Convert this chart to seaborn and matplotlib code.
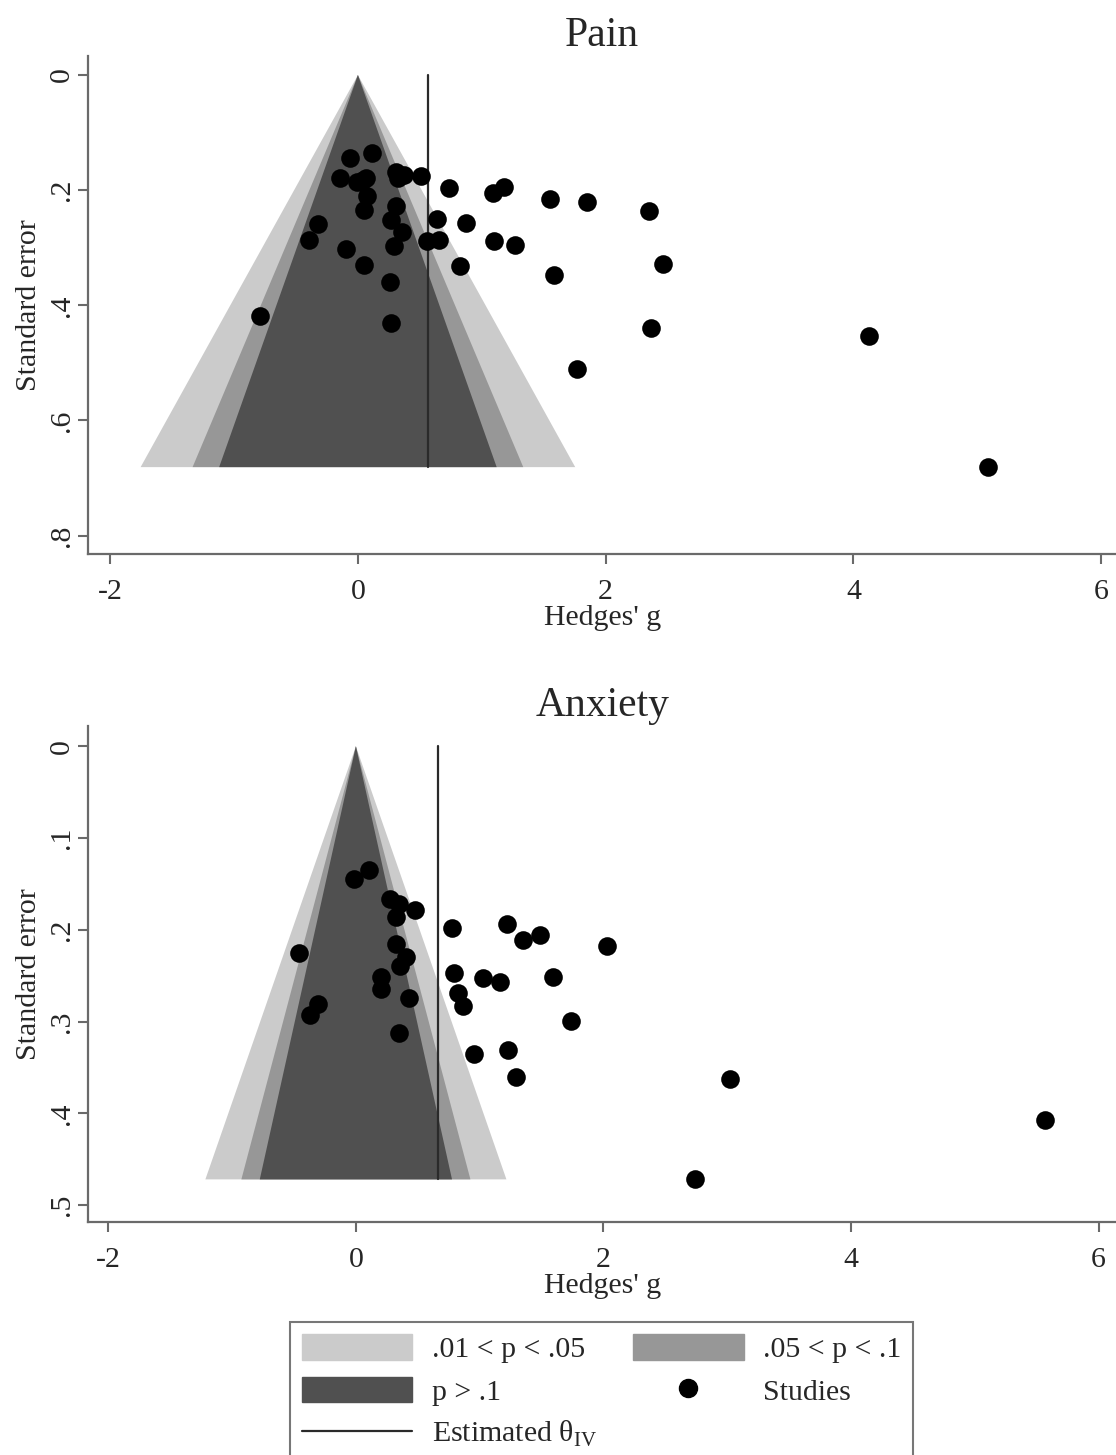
import numpy as np
import pandas as pd
import seaborn as sns
import matplotlib.pyplot as plt
from matplotlib.patches import Patch
from matplotlib.lines import Line2D

# values
pain_g = [-0.065, 0.114, -0.146, 0.045, -0.007, 0.065, 0.074, 0.051, 0.31, 0.37,
          0.326, 0.513, 0.739, 1.092, 1.179, 1.549, 1.85, 2.35, 0.305, 0.267,
          0.355, 0.635, 0.874, -0.319, -0.392, -0.10, 0.288, 0.557, 0.658, 1.10,
          1.265, 0.051, 0.826, 0.259, 1.584, 2.461, -0.788, 0.267, 2.364, 1.77,
          4.125, 5.09]
pain_se = [0.144, 0.135, 0.179, 0.182, 0.185, 0.179, 0.210, 0.235, 0.168, 0.173,
           0.179, 0.176, 0.196, 0.205, 0.194, 0.215, 0.220, 0.237, 0.228, 0.251,
           0.273, 0.250, 0.257, 0.258, 0.286, 0.303, 0.297, 0.289, 0.286, 0.288,
           0.295, 0.330, 0.331, 0.360, 0.348, 0.329, 0.419, 0.430, 0.439, 0.511,
           0.4535, 0.681]
pain_theta = 0.567

anx_g = [0.104, -0.017, 0.272, 0.35, 0.474, 0.321, 0.775, 1.218, 1.348, 1.487,
         2.027, -0.46, 0.321, 0.408, 0.359, 0.793, 1.03, 1.168, 1.593, 0.205,
         0.205, 0.428, 0.827, 0.862, -0.307, -0.373, 1.737, 0.35, 0.951, 1.232,
         1.296, 3.021, 5.57, 2.743]
anx_se = [0.135, 0.145, 0.167, 0.172, 0.178, 0.186, 0.198, 0.194, 0.211, 0.206,
          0.218, 0.225, 0.216, 0.230, 0.239, 0.247, 0.253, 0.257, 0.251, 0.251,
          0.264, 0.274, 0.269, 0.283, 0.281, 0.293, 0.299, 0.312, 0.335, 0.331,
          0.360, 0.363, 0.407, 0.472]
anx_theta = 0.66

x_ticks = [-2, 0, 2, 4, 6]
pain_yticks = [0, 0.2, 0.4, 0.6, 0.8]
anx_yticks = [0, 0.1, 0.2, 0.3, 0.4, 0.5]

z_levels = [2.576, 1.96, 1.645]
band_colors = ['#cbcbcb', '#979797', '#505050']
band_labels = ['.01 < p < .05', '.05 < p < .1', 'p > .1']

sns.set_theme(style="white")
plt.rcParams['font.family'] = ['Liberation Serif', 'DejaVu Serif']
plt.rcParams['mathtext.fontset'] = 'custom'
plt.rcParams['mathtext.rm'] = 'Liberation Serif'
plt.rcParams['axes.unicode_minus'] = False

axis_col = '#6a6a6a'
fs = 21.5


def fmt(v):
    return '0' if v == 0 else f'{v:.1f}'.lstrip('0')


def funnel(ax, g, se, theta, title, yticks, ylim, xlim):
    se_max = max(se)
    # contour bands, centred on zero
    for z, c in zip(z_levels, band_colors):
        ax.fill([0, -z * se_max, z * se_max], [0, se_max, se_max], color=c, lw=0, zorder=1)
    ax.plot([theta, theta], [0, se_max], color='#2a2a2a', lw=1.6, zorder=2)
    df = pd.DataFrame({'g': g, 'se': se})
    sns.scatterplot(data=df, x='g', y='se', ax=ax, color='black', s=180,
                    linewidth=0, legend=False, zorder=3)

    ax.set_xlim(*xlim)
    ax.set_ylim(ylim[1], ylim[0])
    ax.set_xticks(x_ticks)
    ax.set_xticklabels([str(t) for t in x_ticks])
    ax.set_yticks(yticks)
    ax.set_yticklabels([fmt(t) for t in yticks], rotation=90, va='center')
    ax.tick_params(direction='out', length=7, width=1.5, color=axis_col,
                   labelsize=fs, left=True, bottom=True)
    ax.tick_params(axis='y', pad=3)
    ax.tick_params(axis='x', pad=11)
    for s in ['top', 'right']:
        ax.spines[s].set_visible(False)
    for s in ['left', 'bottom']:
        ax.spines[s].set_color(axis_col)
        ax.spines[s].set_linewidth(1.6)
    ax.set_xlabel("Hedges' g", fontsize=fs, labelpad=0)
    ax.set_ylabel('Standard error', fontsize=fs, labelpad=5)
    ax.set_title(title, fontsize=30, pad=7)


fig = plt.figure(figsize=(11.16, 14.55), dpi=100)
ax1 = fig.add_axes([0.0793, 0.6192, 0.9207, 0.3423])
ax2 = fig.add_axes([0.0793, 0.1601, 0.9207, 0.3409])

funnel(ax1, pain_g, pain_se, pain_theta, 'Pain', pain_yticks, (-0.033, 0.832), (-2.175, 6.12))
funnel(ax2, anx_g, anx_se, anx_theta, 'Anxiety', anx_yticks, (-0.022, 0.5185), (-2.16, 6.14))

handles = [Patch(color=band_colors[0]), Patch(color=band_colors[2]),
           Line2D([], [], color='#2a2a2a', lw=1.6),
           Patch(color=band_colors[1]),
           Line2D([], [], color='black', marker='o', ls='none', markersize=13)]
labels = [band_labels[0], band_labels[2], 'Estimated θ$_{\\mathrm{IV}}$',
          band_labels[1], 'Studies']
leg = fig.legend(handles, labels, ncol=2, loc='upper left',
                 bbox_to_anchor=(290 / 1116, 1 - 1322 / 1455),
                 frameon=True, fancybox=False, edgecolor='#555555', fontsize=fs,
                 handlelength=3.7, handleheight=0.95, handletextpad=0.65,
                 columnspacing=1.2, labelspacing=0.45, borderpad=0.4,
                 borderaxespad=0)
leg.get_frame().set_linewidth(1.5)

fig.savefig('out.png', dpi=100)
